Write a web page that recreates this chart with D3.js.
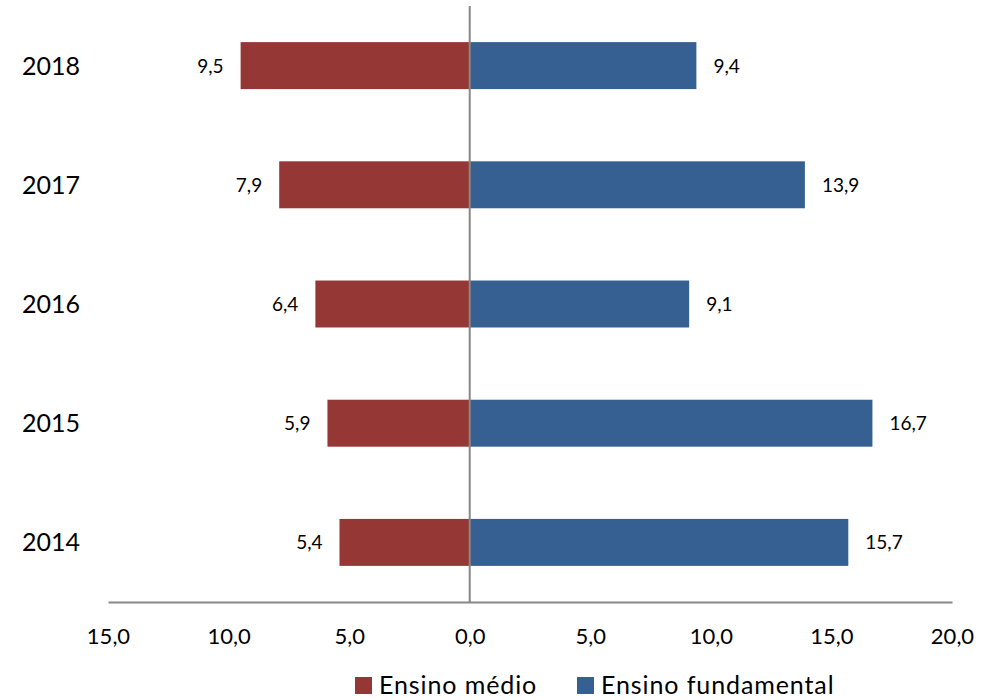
<!DOCTYPE html>
<html>
<head>
<meta charset="utf-8">
<script src="https://d3js.org/d3.v7.min.js"></script>
<style>
  html, body { margin: 0; padding: 0; background: #fff; }
  svg { display: block; font-family: Lato, "Open Sans", sans-serif; }
</style>
</head>
<body>
<svg id="chart" width="1000" height="700"></svg>
<script>
const years = ["2018", "2017", "2016", "2015", "2014"];
const ensinoMedio = [9.5, 7.9, 6.4, 5.9, 5.4];
const ensinoFundamental = [9.4, 13.9, 9.1, 16.7, 15.7];
const tickValues = [-15, -10, -5, 0, 5, 10, 15, 20];
const seriesNames = ["Ensino médio", "Ensino fundamental"];
const colors = ["#953735", "#376092"];

const svg = d3.select("#chart");
const x = d3.scaleLinear().domain([-15, 20]).range([108, 952]);
const y = d3.scaleBand().domain(years).range([6, 602]).paddingInner(0.606).paddingOuter(0.303);
const fmt = v => d3.format(".1f")(Math.abs(v)).replace(".", ",");

// bars
years.forEach((yr, i) => {
  svg.append("rect")
    .attr("x", x(-ensinoMedio[i])).attr("y", y(yr))
    .attr("width", x(0) - x(-ensinoMedio[i])).attr("height", y.bandwidth())
    .attr("fill", colors[0]);
  svg.append("rect")
    .attr("x", x(0)).attr("y", y(yr))
    .attr("width", x(ensinoFundamental[i]) - x(0)).attr("height", y.bandwidth())
    .attr("fill", colors[1]);
  const cy = y(yr) + y.bandwidth() / 2;
  svg.append("text").attr("x", x(-ensinoMedio[i]) - 17).attr("y", cy + 7)
    .attr("text-anchor", "end")
    .attr("font-size", 19).attr("fill", "#000").text(fmt(ensinoMedio[i]));
  svg.append("text").attr("x", x(ensinoFundamental[i]) + 17).attr("y", cy + 7)
    .attr("text-anchor", "start")
    .attr("font-size", 19).attr("fill", "#000").text(fmt(ensinoFundamental[i]));
  svg.append("text").attr("x", 22).attr("y", cy + 9)
    .attr("text-anchor", "start")
    .attr("font-size", 25).attr("fill", "#000").text(yr);
});

// vertical zero line
svg.append("line").attr("x1", x(0)).attr("x2", x(0)).attr("y1", 6).attr("y2", 602)
  .attr("stroke", "#888").attr("stroke-width", 2);

// x axis
const axis = d3.axisBottom(x).tickValues(tickValues).tickSize(0).tickPadding(26).tickFormat(fmt);
const gx = svg.append("g").attr("transform", "translate(0,602)").call(axis);
gx.select(".domain").attr("stroke", "#888").attr("stroke-width", 2);
gx.selectAll("text").attr("font-size", 22).attr("fill", "#000").attr("font-family", "Lato, 'Open Sans', sans-serif");

// legend
const legendX = [355, 577];
seriesNames.forEach((n, i) => {
  svg.append("rect").attr("x", legendX[i]).attr("y", 677).attr("width", 17).attr("height", 17).attr("fill", colors[i]);
  svg.append("text").attr("x", legendX[i] + 24).attr("y", 694)
    .attr("font-size", 25).attr("letter-spacing", 0.9).attr("fill", "#000").text(n);
});
</script>
</body>
</html>
